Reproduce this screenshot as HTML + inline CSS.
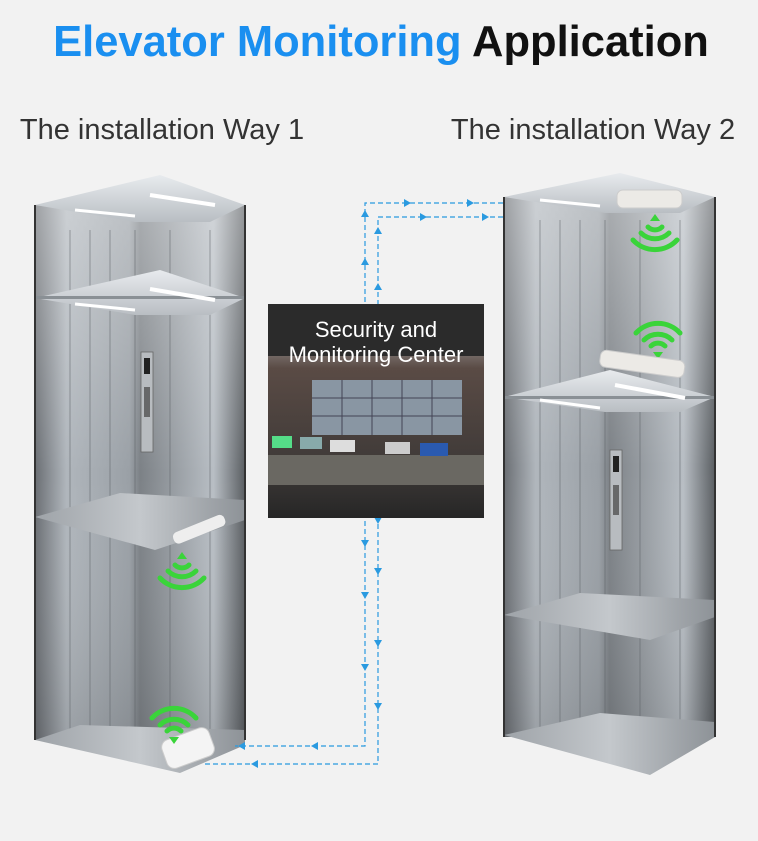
<!DOCTYPE html>
<html><head><meta charset="utf-8"><style>
body{margin:0;background:#f2f2f2;width:758px;height:836px;overflow:hidden;font-family:"Liberation Sans",sans-serif}
</style></head><body>
<svg width="758" height="836" viewBox="0 0 758 836" xmlns="http://www.w3.org/2000/svg">
<defs>
<linearGradient id="wall" x1="0" x2="1" y1="0" y2="0">
<stop offset="0" stop-color="#6a6e73"/><stop offset="0.15" stop-color="#b0b6bc"/><stop offset="0.45" stop-color="#9aa0a6"/><stop offset="0.5" stop-color="#7c8186"/><stop offset="0.85" stop-color="#b8bec4"/><stop offset="1" stop-color="#5a5e62"/>
</linearGradient>
<linearGradient id="wallv" x1="0" x2="0" y1="0" y2="1">
<stop offset="0" stop-color="#fff" stop-opacity="0.35"/><stop offset="0.5" stop-color="#fff" stop-opacity="0"/><stop offset="1" stop-color="#000" stop-opacity="0.12"/>
</linearGradient>
<linearGradient id="ceil" x1="0" x2="0" y1="0" y2="1"><stop offset="0" stop-color="#e8ebee"/><stop offset="1" stop-color="#b9bec3"/></linearGradient>
<linearGradient id="floor" x1="0" x2="1"><stop offset="0" stop-color="#9ea3a8"/><stop offset="0.5" stop-color="#c4c8cc"/><stop offset="1" stop-color="#8d9297"/></linearGradient>
<linearGradient id="scr" x1="0" x2="0" y1="0" y2="1"><stop offset="0" stop-color="#d8dde2"/><stop offset="0.3" stop-color="#5a4b45"/><stop offset="0.75" stop-color="#3f3a38"/><stop offset="1" stop-color="#262626"/></linearGradient>
<g id="wifiU"><path d="M-22,0 a30,30 0 0 1 44,0" fill="none" stroke="#3ad43a" stroke-width="5" stroke-linecap="round"/><path d="M-14,7 a20,20 0 0 1 28,0" fill="none" stroke="#3ad43a" stroke-width="5" stroke-linecap="round"/><path d="M-7,13 a10,10 0 0 1 14,0" fill="none" stroke="#3ad43a" stroke-width="5" stroke-linecap="round"/><path d="M-5,19 L5,19 L0,26Z" fill="#3ad43a"/></g>
<g id="wifiD"><path d="M-22,0 a30,30 0 0 0 44,0" fill="none" stroke="#3ad43a" stroke-width="5" stroke-linecap="round"/><path d="M-14,-7 a20,20 0 0 0 28,0" fill="none" stroke="#3ad43a" stroke-width="5" stroke-linecap="round"/><path d="M-7,-13 a10,10 0 0 0 14,0" fill="none" stroke="#3ad43a" stroke-width="5" stroke-linecap="round"/><path d="M-5,-19 L5,-19 L0,-26Z" fill="#3ad43a"/></g>
<g id="panel"><rect x="0" y="0" width="12" height="100" fill="#b8bcc0" stroke="#666" stroke-width="0.8"/><rect x="3" y="6" width="6" height="16" fill="#222"/><rect x="3" y="35" width="6" height="30" fill="#444" opacity="0.7"/></g>
</defs>
<text x="381" y="56" text-anchor="middle" font-size="43.5" font-weight="bold" font-family="Liberation Sans,sans-serif"><tspan fill="#1a8ff0">Elevator Monitoring</tspan><tspan fill="#111"> Application</tspan></text>
<text x="162" y="139" text-anchor="middle" font-size="29" fill="#333">The installation Way 1</text>
<text x="593" y="139" text-anchor="middle" font-size="29" fill="#333">The installation Way 2</text>

<!-- Left elevator -->
<rect x="35" y="205" width="210" height="535" fill="url(#wall)"/>
<rect x="35" y="205" width="210" height="535" fill="url(#wallv)"/>
<g stroke="#5a5f64" stroke-width="1" opacity="0.5"><line x1="70" y1="230" x2="70" y2="740"/><line x1="90" y1="230" x2="90" y2="740"/><line x1="110" y1="230" x2="110" y2="740"/><line x1="135" y1="230" x2="135" y2="740"/><line x1="170" y1="230" x2="170" y2="740"/><line x1="210" y1="230" x2="210" y2="740"/></g>
<polygon points="35,205 160,175 245,205 210,222 135,222" fill="url(#ceil)"/>
<line x1="75" y1="210" x2="135" y2="216" stroke="#fff" stroke-width="3"/><line x1="150" y1="195" x2="215" y2="205" stroke="#fff" stroke-width="4"/>
<polygon points="35,298 160,270 245,298 210,315 135,315" fill="url(#ceil)"/>
<rect x="35" y="296" width="210" height="3" fill="#8a9095"/>
<line x1="75" y1="304" x2="135" y2="310" stroke="#fff" stroke-width="3"/><line x1="150" y1="289" x2="215" y2="300" stroke="#fff" stroke-width="4"/>
<use href="#panel" x="141" y="352"/>
<polygon points="35,517 120,493 245,500 245,520 155,550" fill="url(#floor)"/>
<rect x="172" y="523" width="55" height="12" rx="5" fill="#eee" transform="rotate(-22 200 530)"/>
<polygon points="35,740 80,725 245,730 245,745 180,773" fill="url(#floor)"/>
<rect x="163" y="733" width="50" height="30" rx="8" fill="#f4f4f4" stroke="#ccc" transform="rotate(-20 188 748)"/>
<use href="#wifiD" x="182" y="578"/>
<use href="#wifiU" x="174" y="718"/>
<line x1="35" y1="205" x2="35" y2="740" stroke="#333" stroke-width="2"/><line x1="245" y1="205" x2="245" y2="740" stroke="#333" stroke-width="2"/>

<!-- Right elevator -->
<rect x="504" y="197" width="211" height="540" fill="url(#wall)"/>
<rect x="504" y="197" width="211" height="540" fill="url(#wallv)"/>
<g stroke="#5a5f64" stroke-width="1" opacity="0.5"><line x1="540" y1="220" x2="540" y2="737"/><line x1="560" y1="220" x2="560" y2="737"/><line x1="580" y1="220" x2="580" y2="737"/><line x1="605" y1="220" x2="605" y2="737"/><line x1="640" y1="220" x2="640" y2="737"/><line x1="680" y1="220" x2="680" y2="737"/></g>
<polygon points="504,197 620,173 715,197 680,213 605,213" fill="url(#ceil)"/>
<line x1="540" y1="200" x2="600" y2="206" stroke="#fff" stroke-width="3"/>
<rect x="617" y="190" width="65" height="18" rx="6" fill="#eceae6" stroke="#ccc"/>
<use href="#wifiD" x="655" y="240"/>
<use href="#wifiU" x="658" y="333"/>
<rect x="600" y="355" width="85" height="17" rx="6" fill="#eceae6" stroke="#ccc" transform="rotate(8 640 362)"/>
<polygon points="504,397 610,370 715,397 680,412 605,412" fill="url(#ceil)"/>
<rect x="504" y="396" width="211" height="3" fill="#8a9095"/>
<line x1="540" y1="400" x2="600" y2="408" stroke="#fff" stroke-width="3"/><line x1="615" y1="385" x2="685" y2="398" stroke="#fff" stroke-width="4"/>
<use href="#panel" x="610" y="450"/>
<polygon points="504,615 580,593 715,600 715,617 650,640" fill="url(#floor)"/>
<polygon points="504,735 600,713 715,722 715,737 650,775" fill="url(#floor)"/>
<line x1="504" y1="197" x2="504" y2="737" stroke="#333" stroke-width="2"/><line x1="715" y1="197" x2="715" y2="737" stroke="#333" stroke-width="2"/>

<!-- connectors -->
<g fill="none" stroke="#2a9ae0" stroke-width="1.2" stroke-dasharray="5,3">
<polyline points="503,203 365,203 365,746 235,746"/>
<polyline points="503,217 378,217 378,764 205,764"/>
</g>
<g fill="#2a9ae0">
<path d="M361,217 l4,-7 l4,7z"/><path d="M361,265 l4,-7 l4,7z"/>
<path d="M374,234 l4,-7 l4,7z"/><path d="M374,290 l4,-7 l4,7z"/>
<path d="M404,199 l7,4 l-7,4z"/><path d="M467,199 l7,4 l-7,4z"/>
<path d="M420,213 l7,4 l-7,4z"/><path d="M482,213 l7,4 l-7,4z"/>
<path d="M361,540 l4,7 l4,-7z"/><path d="M361,592 l4,7 l4,-7z"/><path d="M361,664 l4,7 l4,-7z"/>
<path d="M374,517 l4,7 l4,-7z"/><path d="M374,568 l4,7 l4,-7z"/><path d="M374,640 l4,7 l4,-7z"/><path d="M374,703 l4,7 l4,-7z"/>
<path d="M245,742 l-7,4 l7,4z"/><path d="M318,742 l-7,4 l7,4z"/>
<path d="M258,760 l-7,4 l7,4z"/>
</g>

<!-- center box -->
<rect x="268" y="304" width="216" height="214" fill="url(#scr)"/>
<rect x="268" y="304" width="216" height="52" fill="#2b2b2b"/>
<rect x="312" y="380" width="150" height="55" fill="#8996a3"/>
<g stroke="#445" stroke-width="1"><line x1="342" y1="380" x2="342" y2="435"/><line x1="372" y1="380" x2="372" y2="435"/><line x1="402" y1="380" x2="402" y2="435"/><line x1="432" y1="380" x2="432" y2="435"/><line x1="312" y1="398" x2="462" y2="398"/><line x1="312" y1="416" x2="462" y2="416"/></g>
<rect x="268" y="455" width="216" height="30" fill="#6a6862"/>
<rect x="272" y="436" width="20" height="12" fill="#5d8"/><rect x="300" y="437" width="22" height="12" fill="#8aa"/><rect x="330" y="440" width="25" height="12" fill="#ddd"/><rect x="385" y="442" width="25" height="12" fill="#ccc"/><rect x="420" y="443" width="28" height="13" fill="#2a5ab0"/>
<text x="376" y="337" text-anchor="middle" font-size="22" fill="#fff">Security and</text>
<text x="376" y="362" text-anchor="middle" font-size="22" fill="#fff">Monitoring Center</text>
</svg>
</body></html>
